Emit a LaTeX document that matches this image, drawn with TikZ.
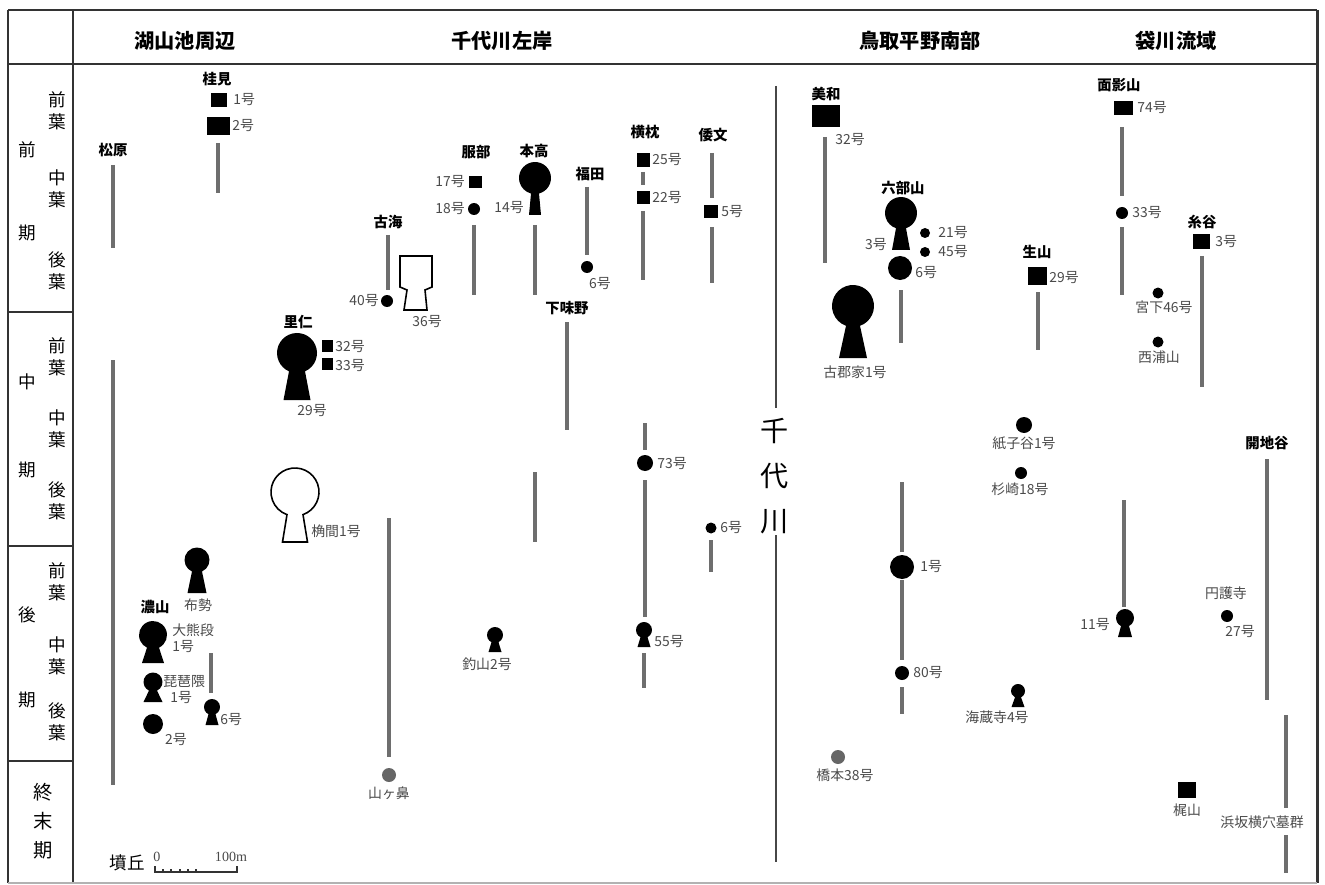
\documentclass[tikz,border=0pt]{standalone}
\usepackage{fontspec}
\setmainfont{Noto Sans CJK JP}
\newfontfamily\serf{Liberation Serif}
\definecolor{lbl}{HTML}{4A4A4A}
\definecolor{barc}{HTML}{6E6E6E}
\definecolor{frm}{HTML}{333333}
\definecolor{gdotc}{HTML}{666666}
\newcommand\kofun[7]{% #1 style, #2 cx, #3 cy, #4 r, #5 neck half-width, #6 bottom half-width, #7 bottom y
  \pgfmathsetmacro\khA{acos(#5/#4)}%
  \pgfmathsetmacro\khB{-180-\khA}%
  \pgfmathsetmacro\khY{#3+sqrt(#4*#4-#5*#5)}%
  \path[#1] ({#2+#5},\khY) arc[start angle=\khA, end angle=\khB, radius=#4] -- ({#2-#6},#7) -- ({#2+#6},#7) -- cycle;
}
\tikzset{
  hdr/.style={font=\bfseries\fontsize{11.5}{12}\selectfont, inner sep=0},
  site/.style={font=\bfseries\fontsize{8.2}{8.5}\selectfont, inner sep=0},
  num/.style={font=\fontsize{7.9}{8.5}\selectfont, text=lbl, inner sep=0},
  per/.style={font=\fontsize{10}{12.5}\selectfont, inner sep=0, align=center},
  vbar/.style={draw=barc, line width=2.2pt},
  river/.style={draw=frm!90, line width=1.5pt},
  blk/.style={fill=black},
  gdot/.style={fill=gdotc},
  frame/.style={draw=frm, line width=1.7pt},
  thinframe/.style={draw=frm, line width=0.9pt},
}
\begin{document}
\begin{tikzpicture}[x=0.02cm,y=-0.02cm]
\useasboundingbox (0,0) rectangle (1325,885);
% ---------- frame ----------
\draw[frame] (8,10) -- (1317,10);
\draw[frame] (8,64) -- (1317,64);
\draw[thinframe] (8,10) -- (8,883);
\draw[frame] (73,10) -- (73,883);
\draw[frame] (1317,10) -- (1317,883);
\draw[draw=gray!60, line width=0.9pt] (8,883) -- (1317,883);
\foreach \yy in {312,546,761} \draw[thinframe] (8,\yy) -- (73,\yy);
% ---------- headers ----------
\node[hdr] (h1) at (185,41) {湖山池周辺};
\node[hdr] (h2) at (502,41) {千代川左岸};
\node[hdr] (h3) at (920,41) {鳥取平野南部};
\node[hdr] (h4) at (1176,41) {袋川流域};
% ---------- periods ----------
\node[per] (p1a) at (27,150) {前};
\node[per] (p1b) at (27,233) {期};
\node[per] (p1c) at (57,111) {前\\葉};
\node[per] (p1d) at (57,189) {中\\葉};
\node[per] (p1e) at (57,271) {後\\葉};
\node[per] (p2a) at (27,382) {中};
\node[per] (p2b) at (27,470) {期};
\node[per] (p2c) at (57,357) {前\\葉};
\node[per] (p2d) at (57,429) {中\\葉};
\node[per] (p2e) at (57,501) {後\\葉};
\node[per] (p3a) at (27,615) {後};
\node[per] (p3b) at (27,700) {期};
\node[per] (p3c) at (57,582) {前\\葉};
\node[per] (p3d) at (57,656) {中\\葉};
\node[per] (p3e) at (57,722) {後\\葉};
\node[per, font=\fontsize{11}{16.5}\selectfont] (p4) at (43,821) {終\\末\\期};
% ---------- river ----------
\draw[river] (776,86) -- (776,408);
\draw[river] (776,535) -- (776,862);
\node[font=\fontsize{16}{25.5}\selectfont, inner sep=0, align=center] (riv) at (775,476) {千\\代\\川};
% ---------- vertical bars ----------
\foreach \xx/\ya/\yb in {113/165/248, 218/143/193, 113/360/785, 211/653/693,
  388/235/290, 474/225/295, 535/225/295, 587/187/255, 643/172/185, 643/211/280,
  712/153/198, 712/227/283, 567/322/430, 535/472/542, 645/423/450, 645/480/617,
  644/653/688, 389/518/757, 711/540/572, 825/137/263, 901/290/343, 902/482/552,
  902/580/660, 902/687/714, 1038/292/350, 1122/127/196, 1122/227/295, 1202/256/387,
  1124/500/607, 1267/459/700, 1286/715/808, 1286/835/873}
  \draw[vbar] (\xx,\ya) -- (\xx,\yb);
% ---------- square mounds ----------
\foreach \cx/\cy/\w/\h in {219/100/16/14, 218/126/23/18, 327/346/11/12, 327/364/11/12,
  475/182/13/12, 643/160/13/14, 643/198/13/13, 711/212/14/13, 826/116/28/22,
  1037/276/19/18, 1123/108/19/14, 1201/242/17/15, 1187/790/18/16}
  \fill[black] ({\cx-\w/2},{\cy-\h/2}) rectangle ({\cx+\w/2},{\cy+\h/2});
% ---------- round mounds ----------
\foreach \cx/\cy/\r in {387/301/6, 474/209/6, 587/267/6, 925/233/5, 925/252/5, 900/268/12,
  1122/213/6, 1158/293/5.5, 1158/342/5.5, 1024/425/8, 1021/473/6, 645/463/8,
  711/528/5.5, 902/567/12, 902/673/7, 1227/616/6, 153/724/10}
  \fill[black] (\cx,\cy) circle[radius=\r];
\fill[gdot] (389,775) circle[radius=7];
\fill[gdot] (838,757) circle[radius=7];
% ---------- keyhole mounds ----------
\kofun{blk}{297}{353}{20}{8}{13.5}{400}
\kofun{draw=black, line width=0.9pt, fill=white}{295}{492}{24}{8}{12.5}{542}
\kofun{blk}{197}{560}{12.5}{5}{9.5}{593}
\kofun{blk}{153}{635}{14}{6}{11}{663}
\kofun{blk}{153}{682}{9.5}{4}{9.5}{702}
\kofun{blk}{212}{707}{8}{3.5}{6.5}{725}
\kofun{blk}{535}{178}{16}{4}{6}{215}
\kofun{blk}{901}{213}{16}{5}{9}{250}
\kofun{blk}{853}{306}{21}{7}{14}{358}
\kofun{blk}{644}{630}{8}{3.5}{6.5}{647}
\kofun{blk}{495}{635}{8}{3.5}{6.5}{652}
\kofun{blk}{1125}{618}{9}{4}{7}{637}
\kofun{blk}{1018}{691}{7}{3}{6.5}{707}
% 古海36号 (front-square, rear-square outline)
\draw[black, line width=0.9pt, fill=white] (400,256) -- (432,256) -- (432,287) -- (425,290)
  -- (427,310) -- (404,310) -- (407,290) -- (400,287) -- cycle;
% ---------- site names ----------
\node[site] (s1) at (217,79) {桂見};
\node[site] (s2) at (113,150) {松原};
\node[site] (s3) at (298,322) {里仁};
\node[site] (s4) at (388,222) {古海};
\node[site] (s5) at (476,152) {服部};
\node[site] (s6) at (534,151) {本高};
\node[site] (s7) at (590,174) {福田};
\node[site] (s8) at (645,132) {横枕};
\node[site] (s9) at (713,135) {倭文};
\node[site] (s10) at (567,308) {下味野};
\node[site] (s11) at (155,607) {濃山};
\node[site] (s12) at (826,94) {美和};
\node[site] (s13) at (903,188) {六部山};
\node[site] (s14) at (1037,252) {生山};
\node[site] (s15) at (1119,85) {面影山};
\node[site] (s16) at (1202,222) {糸谷};
\node[site] (s17) at (1267,443) {開地谷};
% ---------- mound labels ----------
\node[num, anchor=west] (n1) at (233,100) {1号};
\node[num, anchor=west] (n2) at (232,126) {2号};
\node[num, anchor=west] (n3) at (335,347) {32号};
\node[num, anchor=west] (n4) at (335,366) {33号};
\node[num] (n5) at (312,411) {29号};
\node[num, anchor=west] (n6) at (311,531) {桷間1号};
\node[num] (n7) at (198,605) {布勢};
\node[num, anchor=west] (n8) at (172,630) {大熊段};
\node[num, anchor=west] (n9) at (172,647) {1号};
\node[num, anchor=west] (n10) at (163,682) {琵琶隈};
\node[num, anchor=west] (n11) at (170,698) {1号};
\node[num] (n12) at (176,740) {2号};
\node[num, anchor=west] (n13) at (220,720) {6号};
\node[num, anchor=east] (n14) at (379,301) {40号};
\node[num] (n15) at (427,322) {36号};
\node[num, anchor=east] (n16) at (465,182) {17号};
\node[num, anchor=east] (n17) at (465,209) {18号};
\node[num, anchor=east] (n18) at (524,208) {14号};
\node[num] (n19) at (600,284) {6号};
\node[num, anchor=west] (n20) at (652,160) {25号};
\node[num, anchor=west] (n21) at (652,198) {22号};
\node[num, anchor=west] (n22) at (721,212) {5号};
\node[num, anchor=west] (n23) at (835,140) {32号};
\node[num, anchor=east] (n24) at (887,245) {3号};
\node[num, anchor=west] (n25) at (938,233) {21号};
\node[num, anchor=west] (n26) at (938,252) {45号};
\node[num, anchor=west] (n27) at (915,273) {6号};
\node[num] (n28) at (855,372) {古郡家1号};
\node[num, anchor=west] (n29) at (1137,108) {74号};
\node[num, anchor=west] (n30) at (1132,213) {33号};
\node[num, anchor=west] (n31) at (1215,242) {3号};
\node[num, anchor=west] (n32) at (1049,278) {29号};
\node[num] (n33) at (1164,307) {宮下46号};
\node[num] (n34) at (1159,357) {西浦山};
\node[num] (n35) at (1024,443) {紙子谷1号};
\node[num] (n36) at (1020,489) {杉崎18号};
\node[num, anchor=west] (n37) at (657,464) {73号};
\node[num, anchor=west] (n38) at (720,528) {6号};
\node[num, anchor=west] (n39) at (920,567) {1号};
\node[num, anchor=west] (n40) at (913,673) {80号};
\node[num, anchor=west] (n41) at (654,642) {55号};
\node[num] (n42) at (487,664) {釣山2号};
\node[num] (n43) at (389,793) {山ヶ鼻};
\node[num] (n44) at (845,775) {橋本38号};
\node[num, anchor=east] (n45) at (1110,625) {11号};
\node[num] (n46) at (1226,593) {円護寺};
\node[num] (n47) at (1240,632) {27号};
\node[num] (n48) at (997,717) {海蔵寺4号};
\node[num] (n49) at (1187,810) {梶山};
\node[num] (n50) at (1262,822) {浜坂横穴墓群};
% ---------- scale ----------
\node[font=\fontsize{10}{10}\selectfont, inner sep=0] (sc) at (127,863) {墳丘};
\node[font=\serf\fontsize{8}{8}\selectfont, text=lbl, inner sep=0] (s0) at (157,857) {0};
\node[font=\serf\fontsize{8}{8}\selectfont, text=lbl, inner sep=0] (s100) at (231,857) {100m};
\draw[frm, line width=0.8pt] (155,866) -- (155,872) -- (237,872) -- (237,866);
\foreach \xx in {163,171,180,188,196} \draw[frm, line width=0.8pt] (\xx,872) -- (\xx,869);
\end{tikzpicture}
\end{document}
